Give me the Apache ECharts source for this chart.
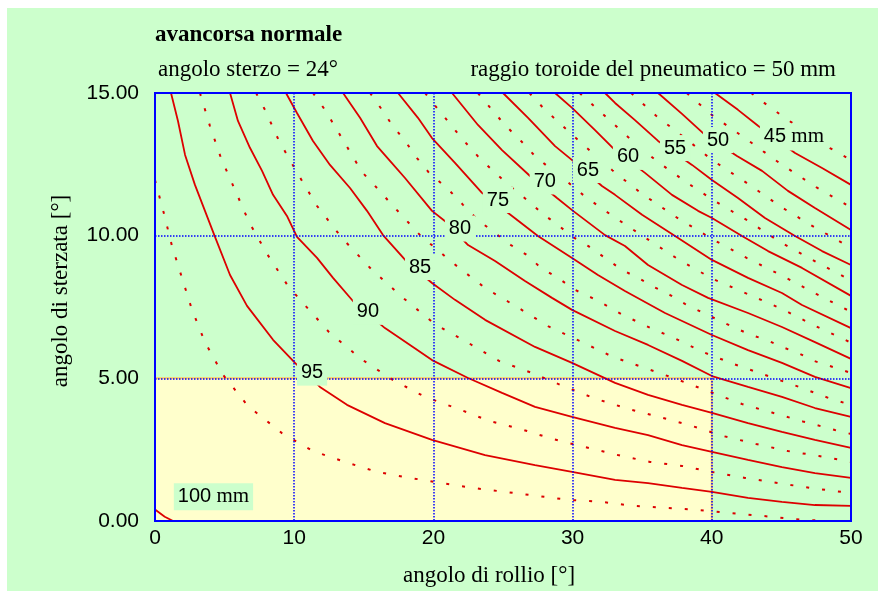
<!DOCTYPE html>
<html>
<head>
<meta charset="utf-8">
<script src="https://cdn.jsdelivr.net/npm/echarts@6/dist/echarts.min.js"></script>
<style>html,body{margin:0;padding:0;background:#fff;}#c{width:894px;height:591px;}</style>
</head>
<body>
<div id="c"></div>
<script>
// ---- axes ----
const xRange = [0, 50, 10];
const yRange = [0, 15, 5];
const yellowZone = [[0, 0], [40, 5]];

// ---- solid contours (mm) ----
const c100 = [[0,0.4],[0.7,0.15],[1.3,0]];
const c95 = [[1.15,15],[1.65,14.02],[2.16,12.83],[2.87,11.78],[3.59,10.87],[4.31,9.96],[5.39,8.62],[6.61,7.54],[8.48,6.35],[10.06,5.54],[11.85,4.7],[13.79,4.07],[16.52,3.43],[19.9,2.84],[23.71,2.31],[27.3,1.96],[29.96,1.72],[33.05,1.44],[35.42,1.33],[37.86,1.16],[40.01,1.02],[42.6,0.81],[45.04,0.67],[47.41,0.56],[50,0.53]];
const c90 = [[5.39,15],[5.96,14.02],[6.82,13.08],[7.69,12.27],[8.48,11.43],[9.48,10.69],[10.2,9.96],[11.64,9.22],[12.79,8.52],[14.22,7.71],[16.52,6.76],[18.53,6.1],[19.9,5.64],[22.49,5.01],[24.93,4.49],[27.3,4.0],[29.96,3.65],[33.05,3.26],[35.42,3.01],[37.86,2.66],[40.01,2.42],[42.6,2.14],[45.04,1.89],[47.41,1.68],[50,1.51]];
const c85 = [[9.41,15],[10.2,14.3],[11.35,13.32],[12.57,12.48],[14.01,11.67],[15.23,10.87],[16.38,10.02],[18.1,9.08],[19.9,8.34],[21.55,7.75],[23.71,7.05],[27.3,6.1],[29.96,5.54],[33.05,4.84],[35.42,4.42],[37.86,4.07],[40.01,3.79],[42.6,3.43],[45.04,3.12],[47.41,2.84],[50,2.56]];
const c80 = [[13.51,15],[14.73,14.13],[15.95,13.14],[16.88,12.62],[17.96,12.02],[19.9,10.87],[20.98,10.45],[22.49,9.67],[24.43,9.11],[26.58,8.41],[28.52,7.82],[29.96,7.4],[33.05,6.66],[35.42,6.17],[37.86,5.61],[40.01,5.08],[42.6,4.7],[45.04,4.35],[47.41,3.96],[50,3.65]];
const c75 = [[17.46,15],[18.89,14.13],[19.9,13.42],[21.55,12.55],[23.49,11.5],[25.65,10.69],[27.51,9.99],[29.96,9.22],[31.82,8.62],[33.76,8.06],[36.64,7.29],[40.01,6.52],[42.6,5.99],[45.04,5.54],[47.41,5.05],[50,4.66]];
const c70 = [[21.34,15],[23.2,13.88],[24.93,13.0],[26.94,12.09],[28.88,11.32],[30.03,10.87],[32.33,10.02],[33.76,9.64],[35.42,8.97],[37.86,8.27],[39.73,7.82],[42.6,7.29],[45.04,6.8],[47.41,6.27],[50,5.68]];
const c65 = [[25.0,15],[26.8,14.13],[28.74,13.14],[30.03,12.62],[32.11,11.74],[33.05,11.43],[34.99,10.73],[37.36,9.99],[40.01,9.15],[42.6,8.52],[45.04,7.99],[46.48,7.57],[50,6.76]];
const c60 = [[28.74,15],[29.96,14.48],[31.61,13.7],[33.05,13.0],[35.2,12.2],[37.14,11.43],[39.01,10.87],[40.01,10.62],[42.17,9.99],[44.04,9.46],[46.48,8.87],[50,7.89]];
const c55 = [[32.33,15],[33.05,14.65],[34.48,14.05],[36.14,13.32],[38.58,12.48],[40.01,11.95],[41.88,11.32],[43.82,10.62],[45.98,9.99],[47.92,9.46],[50,8.97]];
const c50 = [[36.14,15],[37.86,14.27],[39.51,13.53],[41.81,12.79],[43.61,12.27],[45.47,11.57],[47.41,10.97],[50,10.2]];
const c45 = [[40.23,15],[41.88,14.41],[43.32,13.85],[45.98,12.9],[47.92,12.37],[50,11.78]];

// ---- dotted intermediate contours ----
const d975 = [[0,11.95],[0.65,10.76],[1.22,9.64],[1.94,8.52],[2.66,7.4],[3.59,6.27],[4.89,5.12],[6.68,4.03],[9.12,3.08],[11.35,2.45],[13.65,2.07],[15.95,1.72],[18.32,1.51],[20.62,1.33],[22.84,1.16],[25.14,1.02],[27.44,0.88],[29.74,0.74],[32.11,0.67],[34.34,0.53],[36.64,0.46],[38.94,0.39],[41.31,0.28],[43.61,0.18],[45.83,0.07],[48.2,0]];
const d925 = [[3.23,15],[3.95,13.84],[4.74,12.72],[5.75,11.6],[6.75,10.48],[8.05,9.36],[9.55,8.24],[10.56,7.68],[12.5,6.62],[14.8,5.68],[17.1,4.94],[19.4,4.35],[21.77,3.93],[23.99,3.51],[26.29,3.22],[28.59,2.87],[30.89,2.59],[33.26,2.31],[35.56,2.07],[37.86,1.93],[40.01,1.72],[42.39,1.51],[44.76,1.33],[47.05,1.16],[50,0.98]];
const d875 = [[7.26,15],[7.9,14.41],[8.91,13.32],[10.27,12.16],[11.64,11.04],[13.43,9.92],[15.59,8.8],[17.82,7.82],[20.11,6.9],[22.41,6.27],[24.71,5.61],[27.08,5.19],[29.31,4.73],[31.68,4.28],[33.98,3.93],[36.21,3.65],[38.58,3.33],[40.8,2.98],[43.18,2.7],[45.47,2.45],[47.7,2.28],[50,2.07]];
const d825 = [[11.35,15],[12.21,14.41],[13.51,13.35],[14.87,12.23],[15.95,11.67],[17.03,11.08],[19.04,10.02],[21.41,9.04],[23.71,8.17],[26.01,7.5],[28.23,6.83],[30.68,6.27],[32.9,5.75],[35.2,5.36],[37.43,4.98],[39.73,4.55],[42.17,4.1],[44.32,3.8],[46.55,3.49],[48.85,3.19],[50,3.05]];
const d775 = [[15.45,15],[16.31,14.41],[17.03,13.88],[17.96,13.32],[18.82,12.72],[19.76,12.16],[20.98,11.67],[22.13,11.08],[23.2,10.55],[24.43,10.09],[25.57,9.67],[26.72,9.32],[27.73,8.87],[28.95,8.52],[30.17,8.1],[31.39,7.82],[32.47,7.54],[33.62,7.22],[34.84,6.94],[35.92,6.69],[37.14,6.45],[39.37,5.92],[41.59,5.5],[44.04,5.08],[46.26,4.7],[48.56,4.28],[50,4.07]];
const d725 = [[19.4,15],[20.3,14.45],[21.19,13.92],[22.13,13.36],[23.2,12.78],[24.43,12.2],[25.57,11.71],[26.8,11.22],[27.87,10.76],[28.95,10.37],[30.03,9.95],[31.11,9.64],[32.33,9.22],[33.55,8.8],[34.7,8.52],[35.85,8.2],[37.0,7.92],[38.07,7.61],[39.22,7.33],[40.45,7.05],[41.52,6.8],[42.82,6.52],[43.97,6.34],[45.04,6.1],[46.19,5.89],[47.34,5.61],[48.49,5.43],[50,5.19]];
const d675 = [[23.2,15],[24.21,14.41],[25.14,13.88],[26.29,13.32],[27.3,12.79],[28.52,12.3],[29.6,11.9],[30.75,11.43],[31.82,11.05],[33,10.65],[35,10.0],[37.5,9.2],[40,8.5],[42.5,7.97],[45,7.44],[47.5,6.82],[50,6.25]];
const d625 = [[26.9,15],[28.0,14.42],[29.0,13.98],[30.0,13.52],[31.5,12.87],[33,12.23],[35,11.46],[37.5,10.63],[40,9.89],[42.5,9.22],[45,8.61],[47.5,7.96],[50,7.33]];
const d575 = [[30.5,15],[32,14.34],[34,13.45],[36,12.63],[38,11.93],[40,11.28],[42.5,10.55],[45,9.75],[47.5,9.08],[50,8.43]];
const d525 = [[34.2,15],[36,14.2],[38,13.45],[40,12.66],[42.5,11.85],[45,11.0],[47.5,10.26],[50,9.58]];
const d475 = [[38.2,15],[40,14.23],[42.5,13.38],[45,12.5],[47.5,11.7],[50,10.99]];
const d425 = [[42.82,15],[43.97,14.58],[45.04,14.2],[46.12,13.84],[47.27,13.46],[48.49,13.07],[50,12.65]];

// ---- contour labels [x, y, text] ----
const contourLabels = [[11.28,5.2,'95'],[15.3,7.33,'90'],[19.04,8.9,'85'],[21.91,10.25,'80'],[24.64,11.25,'75'],[28.0,11.9,'70'],[31.1,12.3,'65'],[33.98,12.76,'60'],[37.36,13.07,'55'],[40.45,13.35,'50'],[45.9,13.46,'45 mm'],[4.2,0.85,'100 mm']];

const titleText = 'avancorsa normale';
const subLeft = 'angolo sterzo = 24°';
const subRight = 'raggio toroide del pneumatico = 50 mm';
const xName = 'angolo di rollio [°]';
const yName = 'angolo di sterzata [°]';

const RED = '#dd0000';
const solid = [c100,c95,c90,c85,c80,c75,c70,c65,c60,c55,c50,c45];
const dotted = [d975,d925,d875,d825,d775,d725,d675,d625,d575,d525,d475,d425];

const series = [];
series.push({
  type: 'line', z: 1, data: [], silent: true,
  markArea: {
    silent: true,
    itemStyle: { color: '#ffffcc', borderColor: '#ffc860', borderWidth: 2 },
    data: [[{ coord: yellowZone[0] }, { coord: yellowZone[1] }]]
  }
});
solid.forEach(d => series.push({
  type: 'line', z: 2, data: d, showSymbol: false, silent: true, animation: false,
  lineStyle: { color: RED, width: 1.8 }
}));
dotted.forEach(d => series.push({
  type: 'line', z: 2, data: d, showSymbol: false, silent: true, animation: false,
  lineStyle: { color: RED, width: 2, type: [3, 13] }
}));
series.push({
  type: 'scatter', z: 4, symbolSize: 0, silent: true, animation: false,
  itemStyle: { opacity: 1, color: '#000' },
  data: contourLabels.map(l => ({ value: [l[0], l[1]], name: l[2] })),
  label: {
    show: true, position: 'inside', opacity: 1,
    formatter: p => {
      const t = p.name;
      if (t.indexOf(' mm') > 0) return t.replace(' mm', '') + '{s| mm}';
      return t;
    },
    color: '#000', fontSize: 20, fontFamily: 'Liberation Sans',
    textBorderWidth: 0, textBorderColor: 'transparent', textShadowBlur: 0,
    backgroundColor: '#ccffcc', padding: [3, 4],
    rich: { s: { fontFamily: 'Liberation Serif', fontSize: 21, color: '#000',
                 textBorderWidth: 0, textBorderColor: 'transparent' } }
  }
});

const SERIF = '23px "Liberation Serif"';
const chart = echarts.init(document.getElementById('c'), null, { renderer: 'canvas' });
chart.setOption({
  animation: false,
  backgroundColor: '#ccffcc',
  grid: { left: 155, top: 93, right: 43, bottom: 70, show: true, z: 10,
          borderColor: '#0000ff', borderWidth: 2, backgroundColor: 'transparent' },
  xAxis: {
    type: 'value', min: xRange[0], max: xRange[1], interval: xRange[2], z: 3,
    axisLine: { show: false }, axisTick: { show: false },
    axisLabel: { color: '#000', fontSize: 21, fontFamily: 'Liberation Sans', margin: 7 },
    splitLine: { show: true, lineStyle: { color: '#0000ff', width: 1.5, type: [1.5, 1.5] } }
  },
  yAxis: {
    type: 'value', min: yRange[0], max: yRange[1], interval: yRange[2], z: 3,
    axisLine: { show: false }, axisTick: { show: false },
    axisLabel: { color: '#000', fontSize: 21, fontFamily: 'Liberation Sans', margin: 16,
                 formatter: v => v.toFixed(2) },
    splitLine: { show: true, lineStyle: { color: '#0000ff', width: 1.5, type: [1.5, 1.5] } }
  },
  graphic: { elements: [
    { type: 'rect', shape: { x: 0, y: 0, width: 894, height: 8 }, style: { fill: '#fff' }, silent: true },
    { type: 'rect', shape: { x: 0, y: 0, width: 7, height: 591 }, style: { fill: '#fff' }, silent: true },
    { type: 'rect', shape: { x: 878, y: 0, width: 16, height: 591 }, style: { fill: '#fff' }, silent: true },
    { type: 'text', x: 155, y: 35, silent: true,
      style: { text: titleText, font: 'bold 23px "Liberation Serif"', fill: '#000', textAlign: 'left', textVerticalAlign: 'middle' } },
    { type: 'text', x: 158, y: 70, silent: true,
      style: { text: subLeft, font: SERIF, fill: '#000', textAlign: 'left', textVerticalAlign: 'middle' } },
    { type: 'text', x: 836, y: 70, silent: true,
      style: { text: subRight, font: SERIF, fill: '#000', textAlign: 'right', textVerticalAlign: 'middle' } },
    { type: 'text', x: 489, y: 576, silent: true,
      style: { text: xName, font: SERIF, fill: '#000', textAlign: 'center', textVerticalAlign: 'middle' } },
    { type: 'text', x: 61, y: 291, rotation: Math.PI / 2, silent: true,
      style: { text: yName, font: SERIF, fill: '#000', textAlign: 'center', textVerticalAlign: 'middle' } }
  ] },
  series: series
});
</script>
</body>
</html>
